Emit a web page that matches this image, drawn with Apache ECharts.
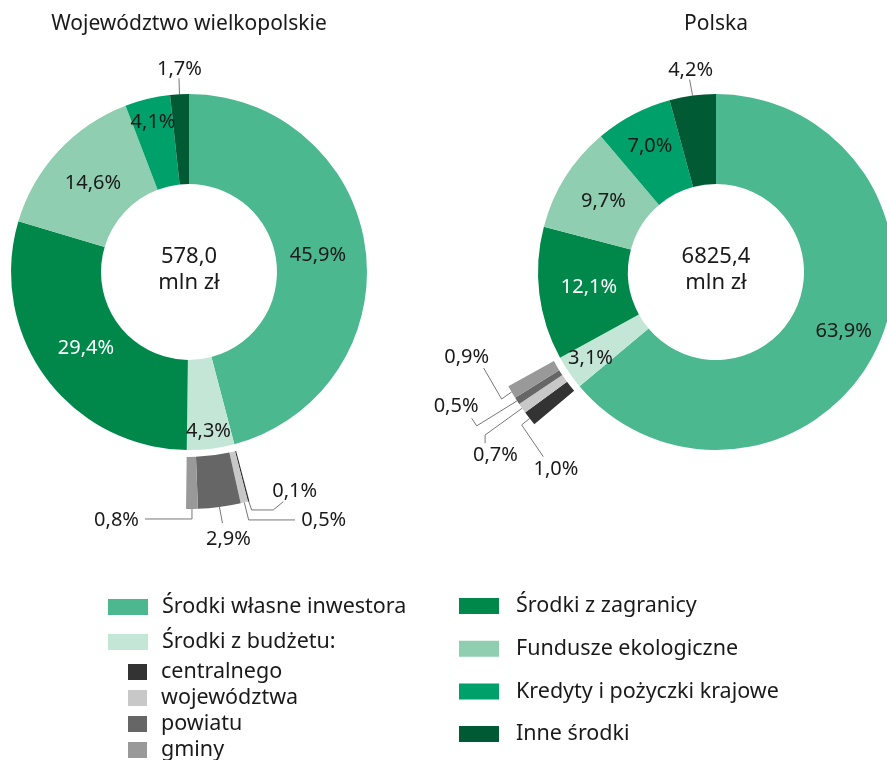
<!DOCTYPE html>
<html><head><meta charset="utf-8">
<script src="https://cdn.jsdelivr.net/npm/echarts@6/dist/echarts.min.js"></script>
<style>html,body{margin:0;padding:0;background:#fff}#c{width:887px;height:760px}</style>
</head><body><div id="c"></div>
<script>
// ---- data ----
const categories = ['Środki własne inwestora','Środki z budżetu:','Środki z zagranicy','Fundusze ekologiczne','Kredyty i pożyczki krajowe','Inne środki'];
const budgetParts = ['centralnego','województwa','powiatu','gminy'];
const wlkpValues = [45.9, 4.3, 29.4, 14.6, 4.1, 1.7];
const plValues = [63.9, 3.1, 12.1, 9.7, 7.0, 4.2];
const wlkpBudget = [0.1, 0.5, 2.9, 0.8];
const plBudget = [1.0, 0.7, 0.5, 0.9];
const titles = ['Województwo wielkopolskie', 'Polska'];
const totals = ['578,0', '6825,4'];
const unit = 'mln zł';

// ---- styles / layout ----
const FONT = "'Noto Sans', sans-serif";
const TXT = '#1a1a1a';
const LINE = '#777777';
const mainColors = ['#4cb88f','#c4e6d7','#00884a','#8fceb1','#00a06b','#005b34'];
const subColors = ['#333333','#c8c8c8','#666666','#999999'];
const fmt = v => v.toFixed(1).replace('.', ',') + '%';

const charts = [
  {
    center: [189, 272], values: wlkpValues, parts: wlkpBudget, title: titles[0], total: totals[0],
    labelR: [130, 160, 128, 131, 154, null], white: [2],
    mainOut: { 5: { pts: [[0,0],[-0.5,-16]], t: [0,-25], align: 'center' } },
    subOut: {
      1: { pts: [[0,0],[3,8.6],[24.6,8.6],[34.6,0.3]], t: [46,-10], align: 'center' },
      2: { pts: [[0,0],[4.3,17.5],[50.7,17.5]], t: [57,17.5], align: 'left' },
      3: { pts: [[0,0],[3,16]], t: [9,32], align: 'center' },
      4: { pts: [[0,0],[0,10],[-47,10]], t: [-53,11], align: 'right' }
    }
  },
  {
    center: [716, 272], values: plValues, parts: plBudget, title: titles[1], total: totals[1],
    labelR: [141, 152, 128, 133, 142, null], white: [2],
    mainOut: { 5: { pts: [[0,0],[-3,-16]], t: [-2,-25], align: 'center' } },
    subOut: {
      1: { pts: [[0,0],[-8,6.5],[13.6,38.2]], t: [26.3,50.5], align: 'center' },
      2: { pts: [[0,0],[-37,26.7],[-37,35]], t: [-26.6,47], align: 'center' },
      3: { pts: [[0,0],[-40.4,25],[-45.4,17.4]], t: [-61,5.5], align: 'center' },
      4: { pts: [[0,0],[-10,7],[-28,-24]], t: [-45,-35], align: 'center' }
    }
  }
];

function makeLayout(center, radii, outs) {
  return function (p) {
    const o = outs && outs[p.dataIndex];
    if (o) {
      const pts = p.labelLinePoints;
      if (!pts || !pts.length) return {};
      const p0 = pts[0];
      return {
        x: p0[0] + o.t[0], y: p0[1] + o.t[1], align: o.align, verticalAlign: 'middle',
        labelLinePoints: o.pts.map(q => [p0[0] + q[0], p0[1] + q[1]])
      };
    }
    if (radii && radii[p.dataIndex]) {
      const r = p.labelRect;
      const lx = r.x + r.width / 2, ly = r.y + r.height / 2;
      const dx = lx - center[0], dy = ly - center[1], d = Math.hypot(dx, dy) || 1;
      const k = radii[p.dataIndex] / d;
      return { x: center[0] + dx * k, y: center[1] + dy * k, align: 'center', verticalAlign: 'middle' };
    }
    return {};
  };
}

const series = [];
const title = [];
charts.forEach(c => {
  series.push({
    type: 'pie', center: c.center, radius: [88, 178], startAngle: 90, clockwise: true,
    avoidLabelOverlap: false, animation: false, silent: true, emphasis: { disabled: true },
    itemStyle: { borderWidth: 0 },
    label: { show: true, position: 'inside', formatter: p => fmt(p.value), fontFamily: FONT, fontSize: 20, color: TXT },
    labelLine: { show: false, lineStyle: { color: LINE, width: 1 } },
    data: c.values.map((v, i) => {
      const d = { name: categories[i], value: v, itemStyle: { color: mainColors[i] } };
      if (c.mainOut[i]) { d.label = { position: 'outside' }; d.labelLine = { show: true, length: 10, length2: 0 }; }
      if (c.white.includes(i)) d.label = Object.assign(d.label || {}, { color: '#ffffff' });
      return d;
    }),
    labelLayout: makeLayout(c.center, c.labelR, c.mainOut)
  });
  const pre = c.values[0];
  const post = c.values.slice(2).reduce((a, b) => a + b, 0);
  const hidden = v => ({ name: '', value: v, itemStyle: { color: 'rgba(0,0,0,0)' }, label: { show: false }, labelLine: { show: false } });
  series.push({
    type: 'pie', center: c.center, radius: [185, 237], startAngle: 90, clockwise: true,
    avoidLabelOverlap: false, animation: false, silent: true, emphasis: { disabled: true },
    itemStyle: { borderWidth: 0 },
    label: { show: true, position: 'outside', formatter: p => fmt(p.value), fontFamily: FONT, fontSize: 20, color: TXT },
    labelLine: { show: true, length: 10, length2: 10, lineStyle: { color: LINE, width: 1 } },
    data: [hidden(pre)].concat(c.parts.map((v, i) => ({ name: budgetParts[i], value: v, itemStyle: { color: subColors[i] } })), [hidden(post)]),
    labelLayout: makeLayout(c.center, null, c.subOut)
  });
  title.push({
    text: c.title, left: c.center[0], top: 24, padding: 0, textAlign: 'center', textVerticalAlign: 'middle',
    textStyle: { fontFamily: FONT, fontSize: 21, fontWeight: 'normal', color: TXT }
  });
  title.push({
    text: c.total + '\n' + unit, left: c.center[0], top: c.center[1] - 2, padding: 0, textAlign: 'center', textVerticalAlign: 'middle',
    textStyle: { fontFamily: FONT, fontSize: 22, lineHeight: 26, fontWeight: 'normal', color: TXT }
  });
});

const legendBase = {
  orient: 'vertical', icon: 'rect', selectedMode: false, padding: 0, height: 200, itemStyle: { borderWidth: 0 }
};
const lt = pad => ({ fontFamily: FONT, fontSize: 21.5, color: TXT, padding: [0, 0, 0, pad] });
const legend = [
  Object.assign({}, legendBase, { left: 108, top: 596, itemWidth: 40, itemHeight: 16, itemGap: 13, data: categories.slice(0, 2), textStyle: lt(9) }),
  Object.assign({}, legendBase, { left: 128, top: 661, itemWidth: 19, itemHeight: 16, itemGap: 4, data: budgetParts, textStyle: lt(9) }),
  Object.assign({}, legendBase, { left: 459, top: 595, itemWidth: 40, itemHeight: 16, itemGap: 20.7, data: categories.slice(2), textStyle: lt(12) })
];

const chart = echarts.init(document.getElementById('c'), null, { renderer: 'canvas' });
chart.setOption({ backgroundColor: '#ffffff', animation: false, title, legend, series });
</script>
</body></html>
